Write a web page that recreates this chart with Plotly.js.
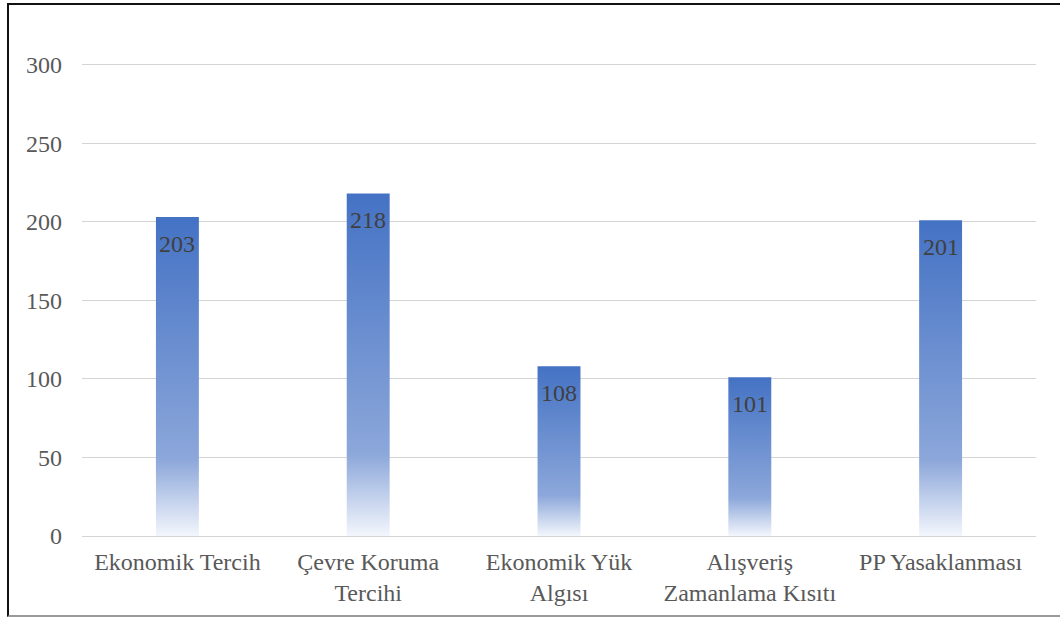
<!DOCTYPE html>
<html>
<head>
<meta charset="utf-8">
<script src="https://cdn.plot.ly/plotly-3.0.1.min.js"></script>
<style>
  html, body { margin: 0; padding: 0; background: #fff; }
  #frame { position: absolute; left: 7px; top: 3px; width: 1060px; height: 614px;
           border-top: 2px solid #111; border-left: 2px solid #111; border-bottom: 2px solid #9a9a9a; box-sizing: border-box; }
  #chart { position: absolute; left: 0; top: 0; width: 1060px; height: 621px; }
</style>
</head>
<body>
<div id="frame"></div>
<div id="chart"></div>
<script>
const categories = ["Ekonomik Tercih", "Çevre Koruma<br>Tercihi", "Ekonomik Yük<br>Algısı", "Alışveriş<br>Zamanlama Kısıtı", "PP Yasaklanması"];
const values = [203, 218, 108, 101, 201];
const yTicks = [0, 50, 100, 150, 200, 250, 300];

const FONT = "'Liberation Serif', 'Times New Roman', serif";

const trace = {
  type: 'bar',
  x: categories,
  y: values,
  width: 0.225,
  marker: { color: '#4472C4', line: { width: 0 } },
  hoverinfo: 'none'
};

const annotations = categories.map((c, i) => ({
  x: c, y: values[i], xref: 'x', yref: 'y',
  text: String(values[i]), showarrow: false,
  yanchor: 'top', yshift: -12,
  font: { family: FONT, size: 24, color: '#404040' }
}));

const layout = {
  width: 1060, height: 621,
  margin: { l: 82, r: 24, t: 63, b: 85 },
  paper_bgcolor: 'rgba(0,0,0,0)',
  plot_bgcolor: 'rgba(0,0,0,0)',
  showlegend: false,
  font: { family: FONT, size: 24, color: '#595959' },
  xaxis: {
    type: 'category',
    showgrid: false, showline: false, zeroline: false,
    ticks: '', ticklabelstandoff: 9,
    tickfont: { family: FONT, size: 24, color: '#595959' }
  },
  yaxis: {
    range: [0, 301], tickvals: yTicks, ticktext: yTicks.map(String),
    showgrid: true, gridcolor: '#d4d4d4', gridwidth: 1,
    zeroline: true, zerolinecolor: '#d4d4d4', zerolinewidth: 1,
    showline: false, ticks: '', ticklabelstandoff: 19,
    tickfont: { family: FONT, size: 24, color: '#595959' }
  },
  annotations: annotations
};

Plotly.newPlot('chart', [trace], layout, { staticPlot: true, displayModeBar: false }).then(function () {
  const svg = document.querySelector('#chart .main-svg');
  const ns = 'http://www.w3.org/2000/svg';
  let defs = svg.querySelector('defs');
  if (!defs) { defs = document.createElementNS(ns, 'defs'); svg.insertBefore(defs, svg.firstChild); }
  const grad = document.createElementNS(ns, 'linearGradient');
  grad.setAttribute('id', 'barGrad');
  grad.setAttribute('x1', '0'); grad.setAttribute('y1', '0');
  grad.setAttribute('x2', '0'); grad.setAttribute('y2', '1');
  [['0', '#4472C4'], ['0.76', '#8CA7DA'], ['1', '#F3F6FC']].forEach(function (s) {
    const st = document.createElementNS(ns, 'stop');
    st.setAttribute('offset', s[0]);
    st.setAttribute('stop-color', s[1]);
    grad.appendChild(st);
  });
  defs.appendChild(grad);
  document.querySelectorAll('#chart .bars .point path').forEach(function (p) {
    p.style.fill = 'url(#barGrad)';
  });
});
</script>
</body>
</html>
